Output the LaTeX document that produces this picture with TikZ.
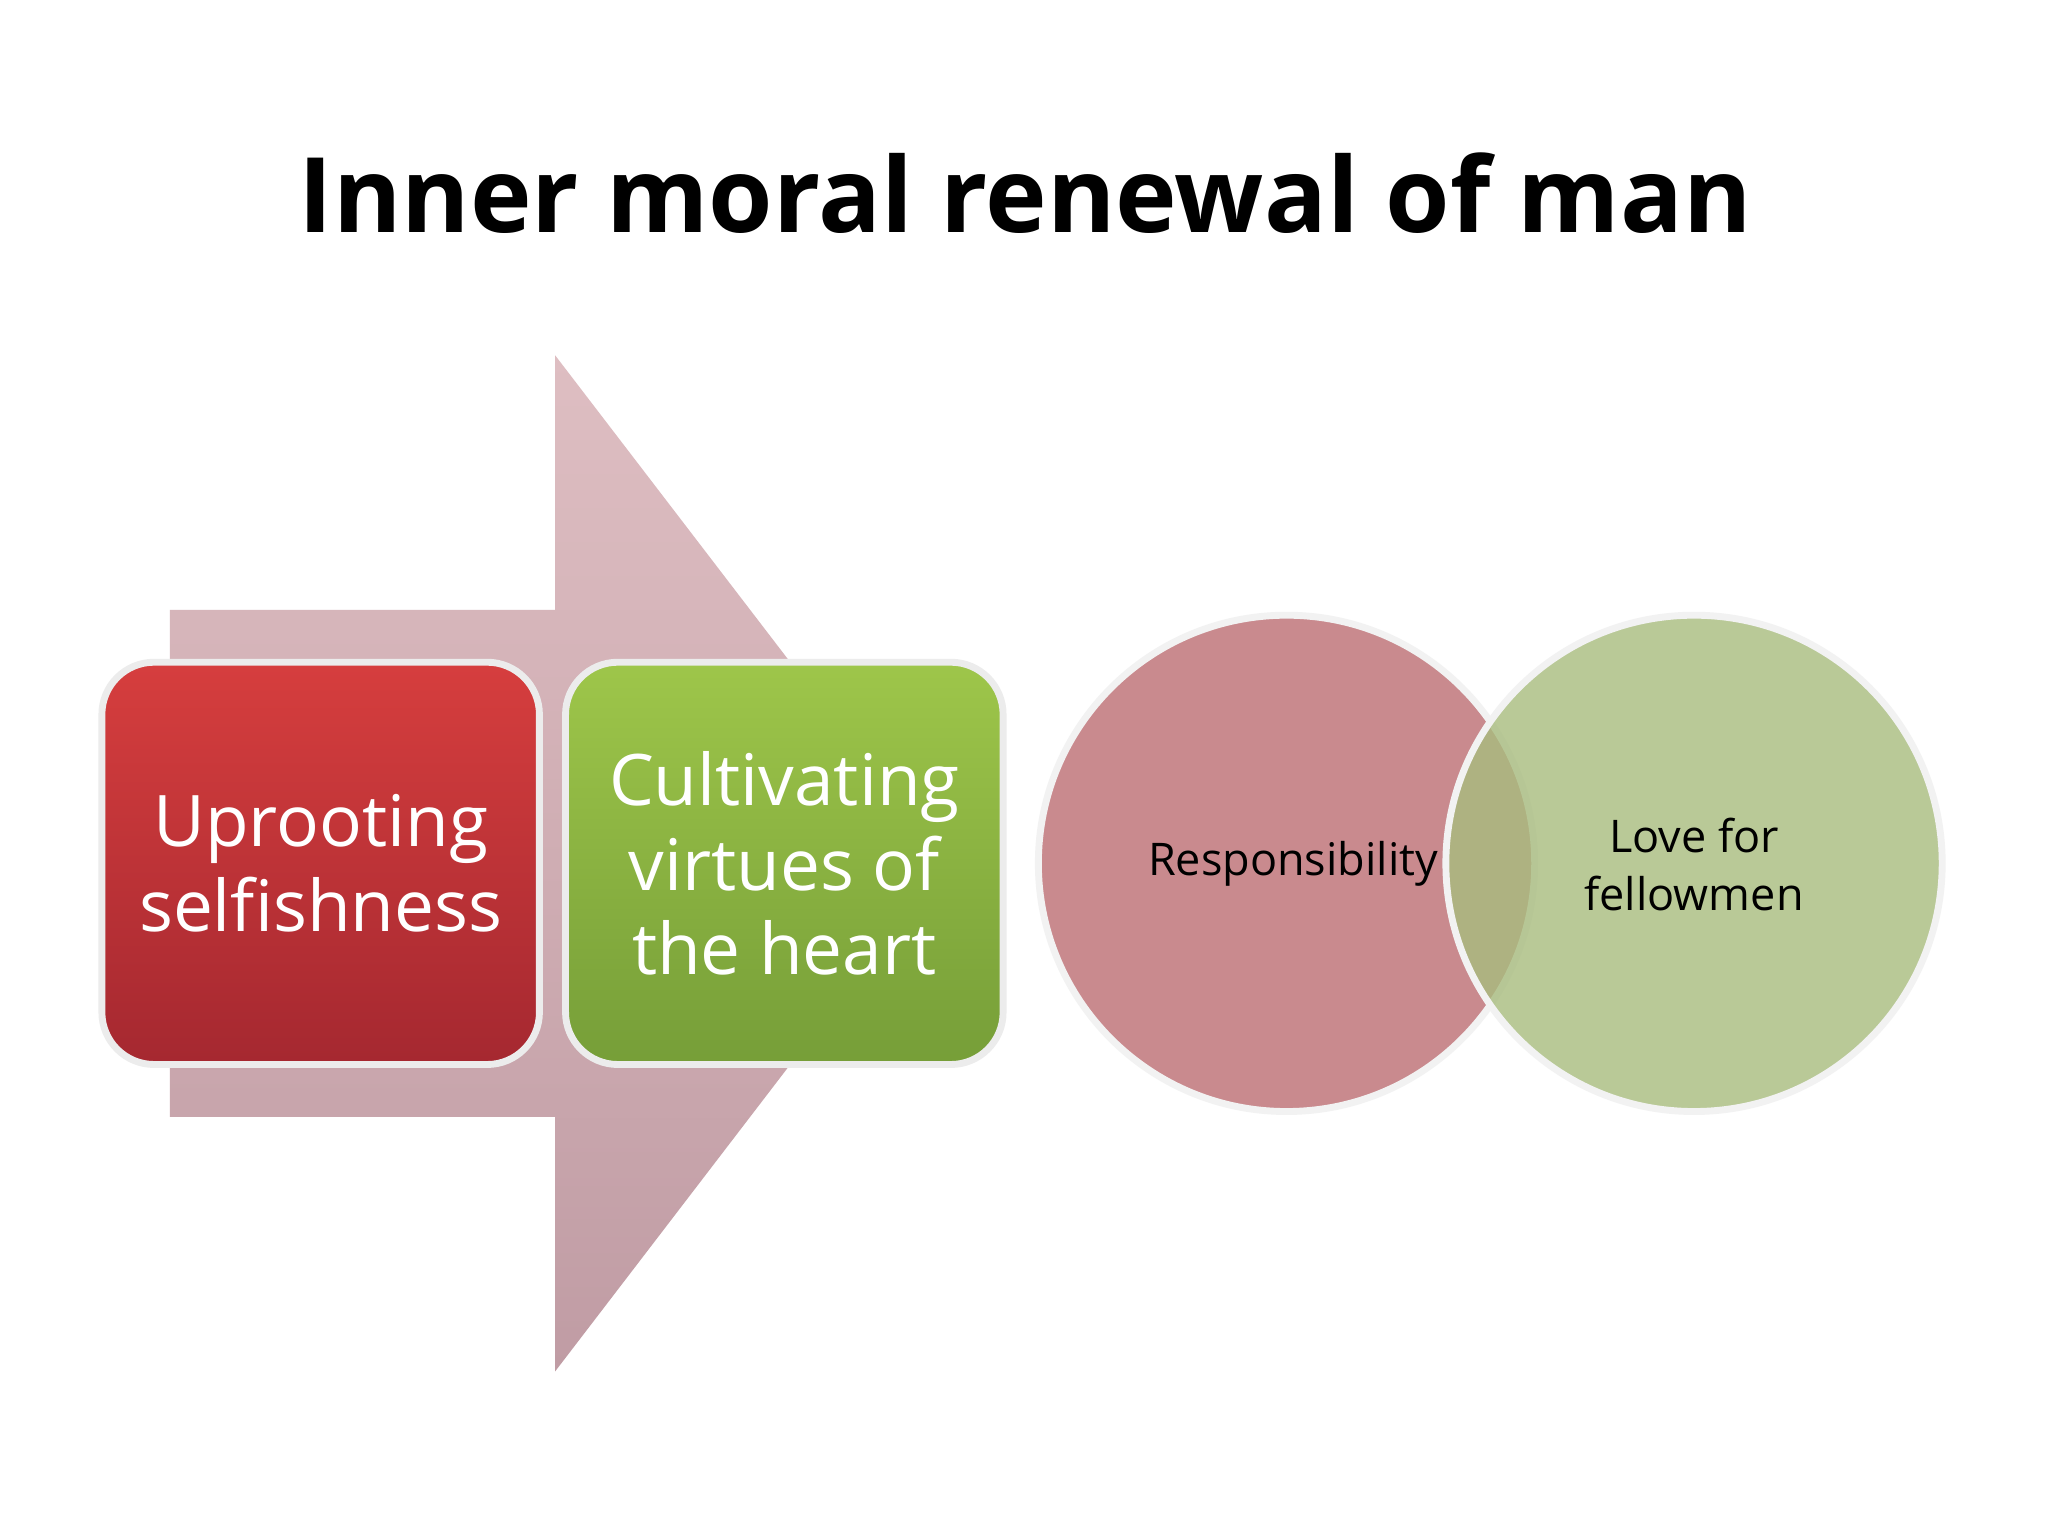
\documentclass[tikz,border=0pt]{standalone}
\usepackage{fontspec}
\setmainfont{Open Sans}[Ligatures=NoCommon]
\definecolor{rtop}{RGB}{214,62,62}
\definecolor{rbot}{RGB}{165,40,48}
\definecolor{gtop}{RGB}{158,198,74}
\definecolor{gbot}{RGB}{118,158,56}
\begin{document}
\begin{tikzpicture}[x=0.1mm,y=-0.1mm,
 box/.style={rounded corners=40*0.1mm, draw=white!85!gray, line width=1.5pt, text=white, align=center, font=\fontsize{15.5}{18.5}\selectfont},
 circ/.style={circle, minimum size=380*0.1mm, draw=white!90!gray, line width=1.5pt, inner sep=0pt}]
\useasboundingbox (0,0) rectangle (1568,1176);
\fill[white] (0,0) rectangle (1568,1176);
\node (title) at (785,148) {\fontsize{22.7}{27}\selectfont\bfseries Inner moral renewal of man};
\shade[top color={rgb,255:red,222;green,190;blue,194}, bottom color={rgb,255:red,192;green,156;blue,164}]
  (130,467) -- (425,467) -- (425,272) -- (723,661) -- (425,1050) -- (425,855) -- (130,855) -- cycle;
\node[box, minimum width=335*0.1mm, minimum height=308*0.1mm, top color=rtop, bottom color=rbot] (b1) at (245.5,661) {Uprooting\\selfishness};
\node[box, minimum width=335*0.1mm, minimum height=308*0.1mm, top color=gtop, bottom color=gbot] (b2) at (600.5,661) {Cultivating\\virtues of\\the heart};
\node[circ, fill={rgb,255:red,201;green,138;blue,142}] (c1) at (985,661) {};
\node[circ, fill={rgb,255:red,168;green,188;blue,126}, fill opacity=0.8] (c2) at (1297,661) {};
\node[font=\fontsize{9.8}{12.5}\selectfont] (t1) at (990,661) {Responsibility};
\node[font=\fontsize{9.8}{12.5}\selectfont, align=center] (t2) at (1297,662) {Love for\\fellowmen};
\end{tikzpicture}
\end{document}
